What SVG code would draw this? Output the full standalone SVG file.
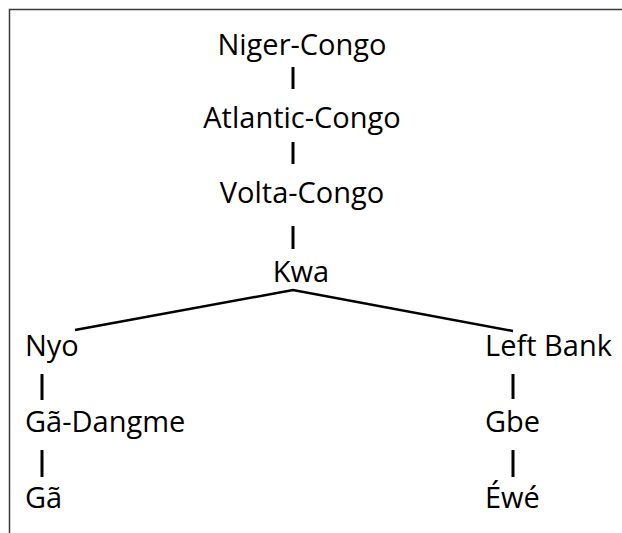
<svg xmlns="http://www.w3.org/2000/svg" width="622" height="533" viewBox="0 0 622 533">
  <style>
    .lbl { font-family: "Open Sans", "Noto Sans", sans-serif; font-size: 29px; fill: #000; }
    .mid { text-anchor: middle; }
    .edge { stroke: #000; stroke-width: 2.5; fill: none; stroke-linecap: butt; }
    .stem { stroke-width: 3; }
    .frame { stroke: #3a3a3a; stroke-width: 1.5; fill: none; }
  </style>
  <rect width="622" height="533" fill="#fff"/>
  <!-- frame: top and left rules -->
  <path class="frame" d="M9.5 533 V9.5 H622"/>

  <g id="connectors">
    <line class="edge stem" x1="293" y1="67" x2="293" y2="89"/>
    <line class="edge stem" x1="293" y1="142" x2="293" y2="164"/>
    <line class="edge stem" x1="293" y1="226" x2="293" y2="249"/>
    <polyline class="edge" points="75,330 293,290 513,331"/>
    <line class="edge stem" x1="42" y1="374" x2="42" y2="400"/>
    <line class="edge stem" x1="42" y1="450" x2="42" y2="477"/>
    <line class="edge stem" x1="513" y1="374" x2="513" y2="399"/>
    <line class="edge stem" x1="513" y1="450" x2="513" y2="477"/>
  </g>

  <g id="niger-congo"><text class="lbl mid" x="302" y="55">Niger-Congo</text></g>
  <g id="atlantic-congo"><text class="lbl mid" x="302" y="128">Atlantic-Congo</text></g>
  <g id="volta-congo"><text class="lbl mid" x="302" y="203">Volta-Congo</text></g>
  <g id="kwa"><text class="lbl mid" x="301" y="282">Kwa</text></g>
  <g id="nyo"><text class="lbl" x="25" y="356">Nyo</text></g>
  <g id="ga-dangme"><text class="lbl" x="25" y="432">Gã-Dangme</text></g>
  <g id="ga"><text class="lbl" x="25" y="508">Gã</text></g>
  <g id="left-bank"><text class="lbl" x="485" y="356">Left Bank</text></g>
  <g id="gbe"><text class="lbl" x="485" y="432">Gbe</text></g>
  <g id="ewe"><text class="lbl" x="485" y="508">Éwé</text></g>
</svg>
